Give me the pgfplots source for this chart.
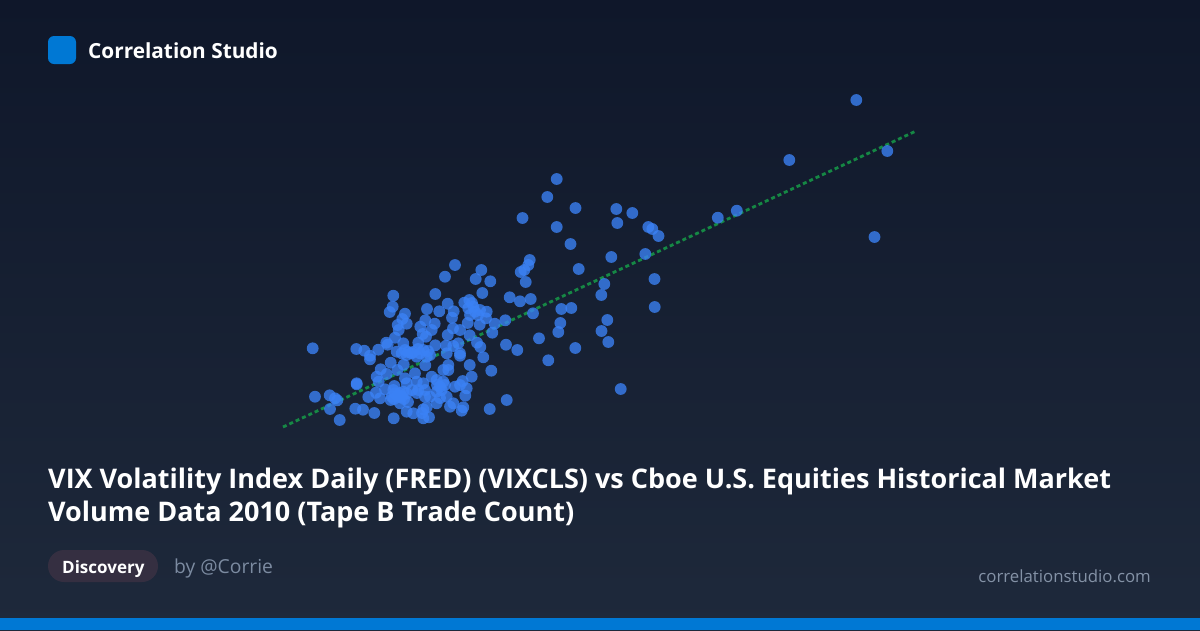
\documentclass[border=0pt]{standalone}
\usepackage{pgfplots}
\pgfplotsset{compat=1.18}
\usepackage{fontspec}
\setmainfont{Open Sans}
\definecolor{bgtop}{HTML}{0F172A}
\definecolor{bgbot}{HTML}{1E293B}
\definecolor{brand}{HTML}{0078D4}
\definecolor{pill}{HTML}{352F41}
\definecolor{dot}{HTML}{3B82F6}
\definecolor{trend}{HTML}{16A34A}
\definecolor{muted}{HTML}{7C8BA1}
\definecolor{muted2}{HTML}{8492A6}
\pgfplotstableread{
x y
455 265
481.3 270
445 276.7
475.7 279
490.3 281.3
529.7 260
528.3 265
524.3 270
520.7 272
525.7 282
482.3 293
435.3 294
393.3 295.7
509.7 297.3
520 301.3
530.7 299
533 313.3
469.3 300
464.3 302.7
447.7 303.7
392.7 306.7
389.7 312
427 309
439.3 311.3
453.7 311.3
452 317.7
405 313.7
402.3 319
406.7 323.7
397.7 325
425.3 320.3
434.7 323.7
420.3 326.7
431.7 330
422.7 334
426 336.7
453 328.3
460 330
447.7 335
398.7 330
395 337.7
386.3 342.7
387.7 344.7
378.3 349.7
356.3 349
364.3 350.7
370 355.7
370 359.3
312.7 348.3
403.3 343.3
418.3 342.7
435.3 345.3
446 345.7
453.3 346
458.3 343.3
469.7 335.3
477 342.7
480.3 347
483.3 357.3
506 344.7
517.3 350
539 338.3
548.3 360.3
492.3 332.7
494.7 323.7
505.3 320.3
479.7 324.7
467.7 323
486 318.3
486.7 311.7
480 310
473.3 306.7
470 315
475 311.7
468.3 308.3
396.7 351.7
405 350
411.7 353.3
420 353.3
426.7 356.7
430 355
423.3 350
416.7 356.7
406.7 355
401.7 353.3
446.7 353.3
460 355.7
460 353.3
425.3 365.3
390.7 362.7
403.7 364.7
380.7 369.3
397.3 370
386.7 374
376.7 376.7
378.7 381.7
356.7 383.3
356.7 384.3
385 389.3
394.3 386
376 392.7
368.3 397
380 398.3
390.7 400
395 393.3
401.7 396.7
406.7 393.3
400 403.3
393.3 390
406.7 383.3
415 373.3
416.7 381.7
423.3 383.3
405 378.3
431.7 376.7
436.7 380
443.3 370
448.3 365
448.3 370
469.7 365
471.7 376.7
491.3 370.7
462.7 381
460 385
466.7 388.3
455 386.7
465.3 395.7
446.7 396.7
440 386.7
436.7 391.7
430 396.7
425 396.7
418.3 390
436.7 403.3
450 406.7
453.3 403.3
463.3 407.3
461.7 410.7
423.3 409.3
426.7 407.3
406.7 411.7
413.3 413.3
423.3 418.3
429 417.3
393.7 418.3
374.3 413
363 409.7
355.3 408.7
330 409
339.7 420
315 396.7
329.7 395.3
335 398.3
337.3 400.3
489.7 409
506.7 400
443.3 381.7
441.7 390
403.3 391.7
398.3 395
391.7 396.7
856.3 100
789.3 160
887.3 151
874.5 237
736.8 210.7
717.8 217.7
556.7 179
547.3 197
575.5 208
522.5 218
556.7 227
616.3 209
632.3 213
617.3 223
570.5 244
648.3 227
652.3 229
658.5 236
645.3 254
611.3 257
578.7 269
654.5 279
604.3 284
601.3 295
654.7 307
571.3 308
561.3 309
607.3 320
560.3 323
558.3 332
601.5 331
608.3 342
575.3 348
620.7 389
413 352
418 349
428 351
408 352
399 397
404 399
394 399
400 393
412 390
425 390
440 398
437 385
445 385
472 303
478 315
417 393
422 413
408 402
}\scatterdata
\begin{document}
\begin{tikzpicture}
\begin{axis}[
  at={(0,0)},anchor=south west,
  scale only axis,width=1200pt,height=630pt,
  xmin=0,xmax=1200,ymin=0,ymax=630,y dir=reverse,
  axis lines=none,clip=false,
]
\fill[bottom color=bgbot,top color=bgtop] (axis cs:0,0) rectangle (axis cs:1200,630);
\fill[brand] (axis cs:0,618) rectangle (axis cs:1200,630);
\addplot[trend,opacity=.8,line width=2.8pt,dash pattern=on 4pt off 3pt] coordinates {(283,427) (916,131)};
\addplot[only marks,mark=*,mark size=5.9pt,color=dot,mark options={draw opacity=0,fill=dot,fill opacity=.78,line width=0pt}] table[x=x,y=y]{\scatterdata};
\fill[brand,rounded corners=6pt] (axis cs:48,36) rectangle (axis cs:76,64);
\node[anchor=base west,inner sep=0,text=white,font=\fontsize{20.8}{24}\selectfont\bfseries] at (axis cs:88,58) {Correlation Studio};
\node[anchor=base west,inner sep=0,text=white,font=\fontsize{27}{32}\selectfont\bfseries] at (axis cs:48,488.5) {VIX Volatility Index Daily (FRED) (VIXCLS) vs Cboe U.S. Equities Historical Market};
\node[anchor=base west,inner sep=0,text=white,font=\fontsize{27}{32}\selectfont\bfseries] at (axis cs:48,521.5) {Volume Data 2010 (Tape B Trade Count)};
\fill[pill,rounded corners=16pt] (axis cs:48,550) rectangle (axis cs:158,582);
\node[anchor=base west,inner sep=0,text=white,font=\fontsize{17}{20}\selectfont\bfseries] at (axis cs:62,573) {Discovery};
\node[anchor=base west,inner sep=0,text=muted,font=\fontsize{19.3}{22}\selectfont] at (axis cs:174,573) {by @Corrie};
\node[anchor=base east,inner sep=0,text=muted2,font=\fontsize{16.8}{20}\selectfont] at (axis cs:1151,582) {correlationstudio.com};
\end{axis}
\pgfresetboundingbox
\path[use as bounding box] (0,0) rectangle (1200pt,630pt);
\end{tikzpicture}
\end{document}
